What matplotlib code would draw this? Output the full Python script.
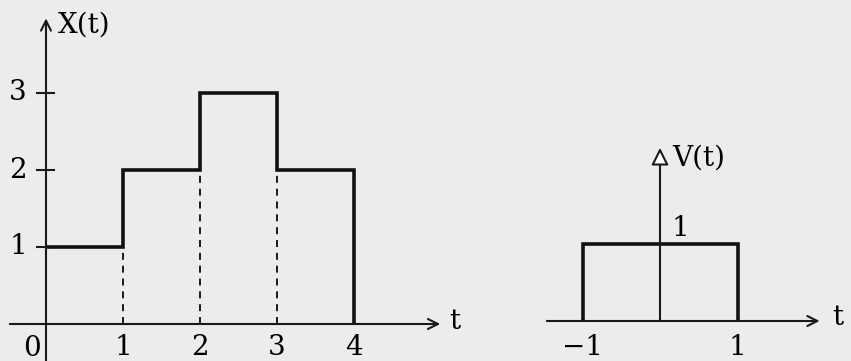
import matplotlib
matplotlib.use("Agg")
import matplotlib.pyplot as plt

# ---- data ----
x_edges = [0, 1, 2, 3, 4]
x_levels = [1, 2, 3, 2]
x_yticks = [1, 2, 3]
x_xticks = [1, 2, 3, 4]

v_edges = [-1, 1]
v_levels = [1]
v_xticks = [-1, 1]

W, H = 851, 361
BG = '#ececeb'
FS = 20
FONT = ['DejaVu Serif']
plt.rcParams['font.family'] = FONT
AX_LW = 1.5
SIG_LW = 2.6
INK = '#1a1a1a'

fig = plt.figure(figsize=(W / 100, H / 100), dpi=100, facecolor=BG)

# ---------- left plot ----------
px_per = 77.0
x0_px, y0_px = 46, 324
ax1 = fig.add_axes([0, 0, 500 / W, 1])
ax1.set_xlim(-x0_px / px_per, (500 - x0_px) / px_per)
ax1.set_ylim(-(H - y0_px) / px_per, y0_px / px_per)
ax1.axis('off')

ylo = -(H - y0_px) / px_per
# axes
ax1.annotate('', xy=(0, 3.97), xytext=(0, ylo),
             arrowprops=dict(arrowstyle='->', lw=AX_LW, color=INK,
                             mutation_scale=18, shrinkA=0, shrinkB=0))
ax1.annotate('', xy=(5.12, 0), xytext=(-0.47, 0),
             arrowprops=dict(arrowstyle='->', lw=AX_LW, color=INK,
                             mutation_scale=18, shrinkA=0, shrinkB=0))
# y ticks
for v in x_yticks:
    ax1.plot([-0.12, 0.1], [v, v], color=INK, lw=AX_LW)
    ax1.text(-0.364, v, str(v), ha='center', va='center', fontsize=FS)
# dashed guides
for i in range(1, len(x_edges) - 1):
    top = min(x_levels[i - 1], x_levels[i])
    ax1.plot([x_edges[i], x_edges[i]], [0, top], color=INK, lw=1.4,
             linestyle=(0, (3.6, 3.0)))
# signal as one continuous path
sx, sy = [], []
for i, lev in enumerate(x_levels):
    sx += [x_edges[i], x_edges[i + 1]]
    sy += [lev, lev]
sx.append(x_edges[-1])
sy.append(0)
ax1.plot(sx, sy, color='#111111', lw=SIG_LW, solid_joinstyle='miter',
         solid_capstyle='butt')
# x tick labels
for v in x_xticks:
    ax1.text(v, -0.31, str(v), ha='center', va='center', fontsize=FS)
ax1.text(-0.18, -0.32, '0', ha='center', va='center', fontsize=FS)
ax1.text(0.156, 3.88, 'X(t)', ha='left', va='center', fontsize=FS)
ax1.text(5.31, 0.03, 't', ha='center', va='center', fontsize=FS)

# ---------- right plot ----------
xs = 77.5
vx0_px, vy0_px = 660, 321
left_px = 500
ax2 = fig.add_axes([left_px / W, 0, (W - left_px) / W, 1])
ax2.set_xlim((left_px - vx0_px) / xs, (W - vx0_px) / xs)
ax2.set_ylim(-(H - vy0_px) / px_per, vy0_px / px_per)
ax2.axis('off')

ax2.annotate('', xy=(0, 2.25), xytext=(0, 0),
             arrowprops=dict(arrowstyle='-|>', lw=AX_LW, ec=INK,
                             fc='white', mutation_scale=26,
                             shrinkA=0, shrinkB=0))
ax2.annotate('', xy=(2.06, 0), xytext=(-1.46, 0),
             arrowprops=dict(arrowstyle='->', lw=AX_LW, color=INK,
                             mutation_scale=18, shrinkA=0, shrinkB=0))
ax2.stairs(v_levels, v_edges, baseline=0, color='#111111', lw=SIG_LW)
for v in v_xticks:
    ax2.text(v, -0.34, str(v).replace('-', '\u2212'), ha='center', va='center',
             fontsize=FS)
ax2.text(0.155, 2.12, 'V(t)', ha='left', va='center', fontsize=FS)
ax2.text(0.26, 1.2, '1', ha='center', va='center', fontsize=FS)
ax2.text(2.3, 0.04, 't', ha='center', va='center', fontsize=FS)

fig.savefig('out.png', dpi=100, facecolor=BG)
